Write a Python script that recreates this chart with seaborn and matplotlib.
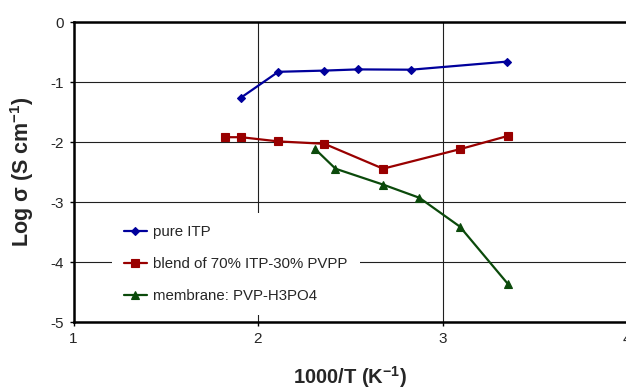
import numpy as np
import pandas as pd
import matplotlib
matplotlib.use("Agg")
import matplotlib.pyplot as plt
import seaborn as sns

# ==================== DATA ====================
itp_x = [1.908, 2.110, 2.36, 2.54, 2.83, 3.35]
itp_y = [-1.26, -0.83, -0.81, -0.79, -0.795, -0.66]

blend_x = [1.823, 1.909, 2.110, 2.36, 2.678, 3.094, 3.353]
blend_y = [-1.92, -1.92, -1.99, -2.03, -2.445, -2.12, -1.90]

memb_x = [2.307, 2.42, 2.678, 2.875, 3.094, 3.353]
memb_y = [-2.11, -2.445, -2.71, -2.93, -3.41, -4.36]

labels = ["pure ITP", "blend of 70% ITP-30% PVPP", "membrane: PVP-H3PO4"]
x_ticks = [1, 2, 3, 4]
y_ticks = [0, -1, -2, -3, -4, -5]

# ==================== STYLE ====================
sns.set_style("white")
plt.rcParams["font.family"] = ["Liberation Sans", "DejaVu Sans"]
plt.rcParams["mathtext.fontset"] = "custom"
plt.rcParams["mathtext.rm"] = "Liberation Sans"
plt.rcParams["mathtext.bf"] = "Liberation Sans:bold"

colors = ["#00009C", "#990000", "#0B4A0B"]
markers = ["D", "s", "^"]
msizes = [4.0, 5.5, 5.5]

fig = plt.figure(figsize=(6.26, 3.92), dpi=100)
ax = fig.add_axes([73.5 / 626, 70 / 392, 553.5 / 626, 300 / 392])

series = [(itp_x, itp_y), (blend_x, blend_y), (memb_x, memb_y)]
for (xs, ys), lab, c, m, ms in zip(series, labels, colors, markers, msizes):
    df = pd.DataFrame({"x": xs, "y": ys})
    sns.lineplot(data=df, x="x", y="y", ax=ax, sort=False, estimator=None,
                 color=c, marker=m, markersize=ms, markeredgecolor=c,
                 markeredgewidth=0.8, linewidth=1.6, label=lab)

ax.set_xlim(1, 4)
ax.set_ylim(-5, 0)
ax.set_xticks(x_ticks)
ax.set_yticks(y_ticks)
ax.set_xticklabels([str(t) for t in x_ticks], fontsize=11)
ax.set_yticklabels([str(t) for t in y_ticks], fontsize=11)
ax.tick_params(axis="both", direction="out", length=3, width=1, color="black",
               left=True, bottom=True, pad=4)
ax.grid(True, color="#202020", linewidth=0.8)
ax.set_axisbelow(True)

for s in ["top", "left", "bottom"]:
    ax.spines[s].set_color("black")
    ax.spines[s].set_linewidth(1.8)
ax.spines["right"].set_color("#d0d0d0")
ax.spines["right"].set_linewidth(0.8)

ax.set_xlabel(r"1000/T (K$^{\mathregular{-1}}$)", fontsize=14.5,
              fontweight="bold", labelpad=13)
ax.set_ylabel(r"Log σ (S cm$^{\mathregular{-1}}$)", fontsize=15.5,
              fontweight="bold", labelpad=10)

leg = ax.legend(loc="upper left", bbox_to_anchor=(0.07, 0.363), fontsize=10.8,
                frameon=True, fancybox=False, framealpha=1, facecolor="white",
                edgecolor="white", handlelength=1.5, handletextpad=0.45,
                labelspacing=1.2, borderpad=0.8, borderaxespad=0)
leg.get_frame().set_linewidth(0)

fig.savefig("out.png", dpi=100)
